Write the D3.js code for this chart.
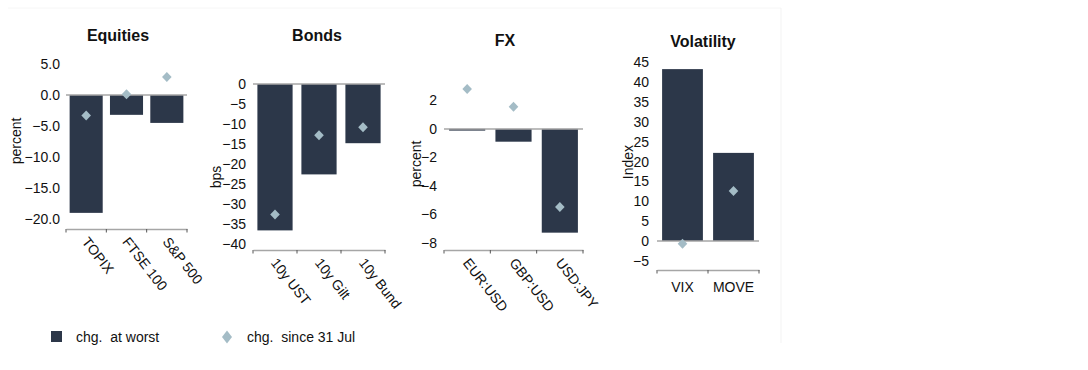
<!DOCTYPE html>
<html>
<head>
<meta charset="utf-8">
<script src="https://cdn.jsdelivr.net/npm/d3@7"></script>
<style>
  html, body { margin: 0; padding: 0; background: #fff; }
  svg { display: block; font-family: "Liberation Sans", Arial, sans-serif; }
</style>
</head>
<body>
<svg id="chart" width="1088" height="370"></svg>
<script>
// ---- data ----
const equitiesCategories = ["TOPIX", "FTSE 100", "S&P 500"];
const equitiesWorst = [-19.0, -3.2, -4.5];
const equitiesSince = [-3.3, 0.1, 2.9];
const equitiesTicks = [-20, -15, -10, -5, 0, 5];

const bondsCategories = ["10y UST", "10y Gilt", "10y Bund"];
const bondsWorst = [-36.6, -22.6, -14.8];
const bondsSince = [-32.6, -12.8, -10.8];
const bondsTicks = [-40, -35, -30, -25, -20, -15, -10, -5, 0];

const fxCategories = ["EUR:USD", "GBP:USD", "USD:JPY"];
const fxWorst = [-0.12, -0.9, -7.3];
const fxSince = [2.8, 1.55, -5.5];
const fxTicks = [-8, -6, -4, -2, 0, 2];

const volCategories = ["VIX", "MOVE"];
const volWorst = [43.3, 22.2];
const volSince = [-0.7, 12.6];
const volTicks = [-5, 0, 5, 10, 15, 20, 25, 30, 35, 40, 45];

const legendLabels = ["chg.  at worst", "chg.  since 31 Jul"];

// ---- layout / style ----
const BAR = "#2c3749";
const DIAMOND = "#a4bcc6";
const AXIS = "#a6a6a6";
const TEXT = "#111";
const FS = 14;

const svg = d3.select("#chart");

// faint frame
svg.append("line").attr("x1", 8).attr("x2", 781).attr("y1", 8).attr("y2", 8)
  .attr("stroke", "#f6f6f6");
svg.append("line").attr("x1", 781).attr("x2", 781).attr("y1", 8).attr("y2", 343)
  .attr("stroke", "#f3f3f3");

const panels = [
  { title: "Equities", cats: equitiesCategories, worst: equitiesWorst, since: equitiesSince,
    ticks: equitiesTicks, fmt: d3.format(".1f"), yLabel: "percent",
    x0: 66, x1: 187, domain: [-21.6, 5.8], r: [229, 59], pad: 0.18,
    labelX: 60, yLabelX: 21, yLabelY: 141, titleX: 118, titleY: 41, rotate: true },
  { title: "Bonds", cats: bondsCategories, worst: bondsWorst, since: bondsSince,
    ticks: bondsTicks, fmt: d3.format("d"), yLabel: "bps",
    x0: 253, x1: 385, domain: [-41.5, 0], r: [250, 84], pad: 0.2,
    labelX: 246, yLabelX: 221, yLabelY: 177, titleX: 317, titleY: 41, rotate: true },
  { title: "FX", cats: fxCategories, worst: fxWorst, since: fxSince,
    ticks: fxTicks, fmt: d3.format("d"), yLabel: "percent",
    x0: 444, x1: 583, domain: [-8.52, 3.3], r: [250, 82], pad: 0.22,
    labelX: 437, yLabelX: 421, yLabelY: 164, titleX: 505, titleY: 46, rotate: true },
  { title: "Volatility", cats: volCategories, worst: volWorst, since: volSince,
    ticks: volTicks, fmt: d3.format("d"), yLabel: "Index",
    x0: 657, x1: 759, domain: [-7.3, 46], r: [270, 58.4], pad: 0.2,
    labelX: 649, yLabelX: 633, yLabelY: 162, titleX: 703, titleY: 47, rotate: false }
];

const diamondPath = (w, h) => `M0,${-h}L${w},0L0,${h}L${-w},0Z`;

panels.forEach(p => {
  const g = svg.append("g");
  const x = d3.scaleBand().domain(p.cats).range([p.x0, p.x1])
    .paddingInner(p.pad).paddingOuter(p.pad / 2);
  const y = d3.scaleLinear().domain(p.domain).range(p.r);
  const zero = y(0);
  const base = p.r[0];

  // title
  g.append("text").attr("x", p.titleX).attr("y", p.titleY)
    .attr("text-anchor", "middle").attr("font-weight", "bold")
    .attr("font-size", 16).attr("fill", TEXT).text(p.title);

  // y axis (labels only)
  const yAxis = d3.axisLeft(y).tickValues(p.ticks).tickFormat(p.fmt).tickSize(0).tickPadding(0);
  const ya = g.append("g").attr("transform", `translate(${p.labelX},0)`).call(yAxis);
  ya.attr("font-size", FS).attr("font-family", "Liberation Sans, Arial, sans-serif");
  ya.select(".domain").remove();
  ya.selectAll("text").attr("fill", TEXT);

  // y label
  g.append("text").attr("transform", `translate(${p.yLabelX},${p.yLabelY}) rotate(-90)`)
    .attr("text-anchor", "middle").attr("font-size", FS).attr("fill", TEXT)
    .text(p.yLabel);

  // bars
  g.selectAll("rect.bar").data(p.cats).enter().append("rect")
    .attr("class", "bar")
    .attr("x", d => x(d))
    .attr("width", x.bandwidth())
    .attr("y", (d, i) => Math.min(y(p.worst[i]), zero))
    .attr("height", (d, i) => Math.abs(y(p.worst[i]) - zero))
    .attr("fill", BAR);

  // zero line
  g.append("line").attr("x1", p.x0).attr("x2", p.x1).attr("y1", zero).attr("y2", zero)
    .attr("stroke", AXIS).attr("stroke-width", 1.5);

  // bottom x axis line
  const xAxis = d3.axisBottom(x).tickSize(0).tickFormat("");
  const xa = g.append("g").attr("transform", `translate(0,${base})`).call(xAxis);
  xa.select(".domain").attr("stroke", AXIS).attr("stroke-width", 1.5);
  xa.selectAll(".tick").remove();

  // tick marks at category boundaries
  const edges = d3.range(p.cats.length + 1).map(i => p.x0 + i * x.step());
  g.selectAll("line.xt").data(edges).enter().append("line")
    .attr("class", "xt")
    .attr("x1", d => d).attr("x2", d => d).attr("y1", base).attr("y2", base + 3.5)
    .attr("stroke", "#555").attr("stroke-width", 1);

  // category labels
  p.cats.forEach(c => {
    const cx = x(c) + x.bandwidth() / 2;
    if (p.rotate) {
      g.append("text")
        .attr("transform", `translate(${cx - 1},${base + 10}) rotate(52)`)
        .attr("text-anchor", "start").attr("dy", "0.35em")
        .attr("font-size", FS).attr("fill", TEXT).text(c);
    } else {
      g.append("text").attr("x", cx).attr("y", base + 22)
        .attr("text-anchor", "middle")
        .attr("font-size", FS).attr("fill", TEXT).text(c);
    }
  });

  // diamonds
  g.selectAll("path.dia").data(p.cats).enter().append("path")
    .attr("class", "dia")
    .attr("d", diamondPath(4.8, 5))
    .attr("transform", (d, i) => `translate(${x(d) + x.bandwidth() / 2},${y(p.since[i])})`)
    .attr("fill", DIAMOND);
});

// legend
const lg = svg.append("g");
lg.append("rect").attr("x", 51).attr("y", 331).attr("width", 11).attr("height", 11).attr("fill", BAR);
lg.append("text").attr("x", 76).attr("y", 337).attr("dy", "0.35em")
  .attr("font-size", FS).attr("fill", TEXT)
  .style("white-space", "pre").text(legendLabels[0]);
lg.append("path").attr("d", diamondPath(5, 6.5)).attr("transform", "translate(227,337)").attr("fill", DIAMOND);
lg.append("text").attr("x", 247).attr("y", 337).attr("dy", "0.35em")
  .attr("font-size", FS).attr("fill", TEXT)
  .style("white-space", "pre").text(legendLabels[1]);
</script>
</body>
</html>
